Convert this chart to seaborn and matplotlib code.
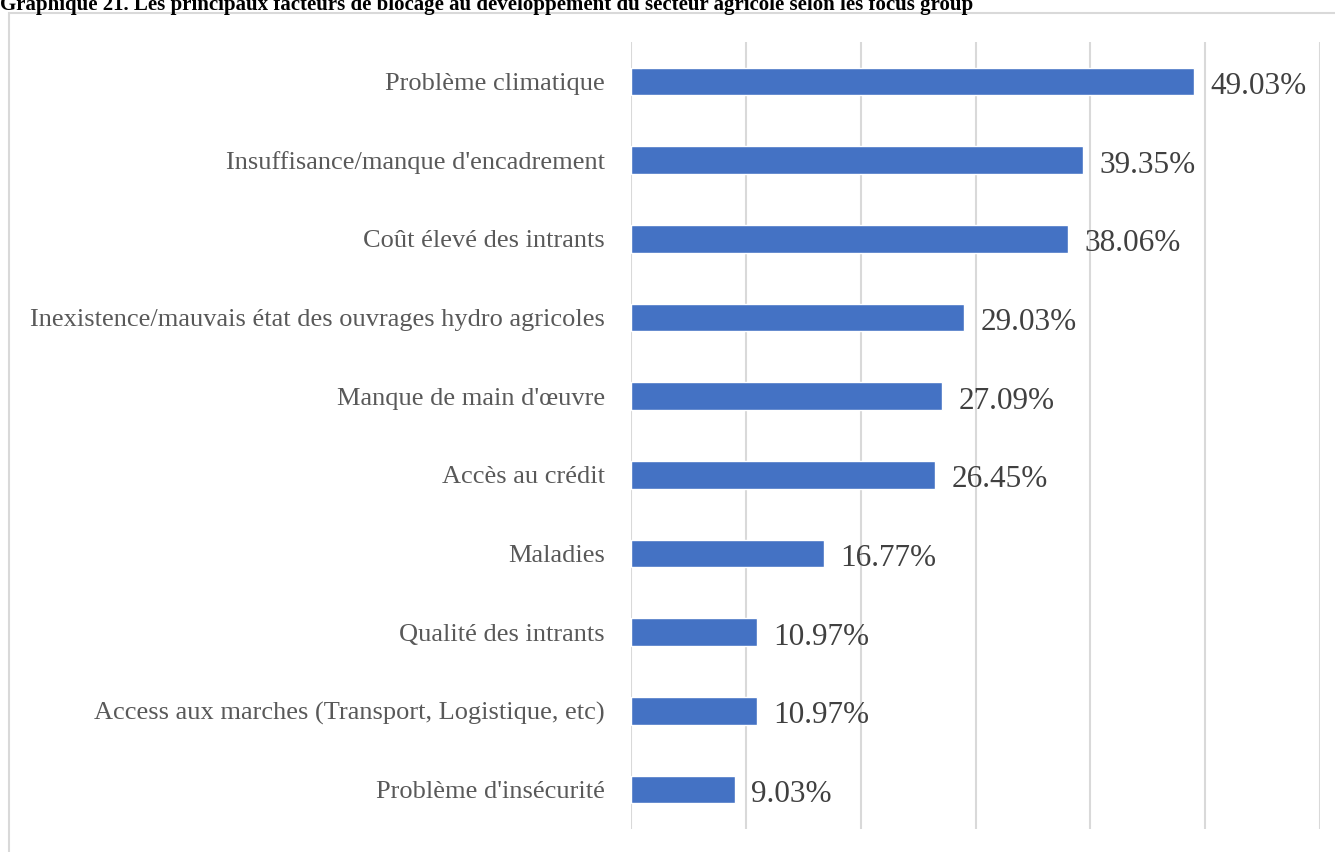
import matplotlib
matplotlib.use('Agg')
import matplotlib.pyplot as plt
import seaborn as sns
import pandas as pd
from matplotlib.patches import Rectangle

# --- Data ---
categories = [
    "Problème climatique",
    "Insuffisance/manque d'encadrement",
    "Coût élevé des intrants",
    "Inexistence/mauvais état des ouvrages hydro agricoles",
    "Manque de main d'œuvre",
    "Accès au crédit",
    "Maladies",
    "Qualité des intrants",
    "Access aux marches (Transport, Logistique, etc)",
    "Problème d'insécurité",
]
values = [49.03, 39.35, 38.06, 29.03, 27.09, 26.45, 16.77, 10.97, 10.97, 9.03]
title = ("Graphique 21. Les principaux facteurs de blocage au développement "
         "du secteur agricole selon les focus group")

df = pd.DataFrame({'facteur': categories, 'pct': values})

sns.set_theme(style='white')
plt.rcParams['font.family'] = ['Liberation Serif', 'DejaVu Serif']

fig = plt.figure(figsize=(13.35, 8.52), dpi=100)
ax = fig.add_axes([0.4727, 0.027, 0.5161, 0.9237])

sns.barplot(data=df, x='pct', y='facteur', orient='h', color='#4472C4',
            width=0.35, saturation=1, ax=ax, zorder=3)

ax.set_xlim(0, 60)
ax.set_ylim(len(categories) - 0.5, -0.5)
ax.set_xticks(range(0, 61, 10))
ax.xaxis.grid(True, color='#d9d9d9', linewidth=1.5, zorder=0)
ax.yaxis.grid(False)
ax.set_axisbelow(True)
ax.set_xticklabels([])
ax.tick_params(axis='x', length=0)
ax.tick_params(axis='y', length=0, pad=19, labelsize=19, labelcolor='#595959')
ax.set_xlabel('')
ax.set_ylabel('')
for s in ax.spines.values():
    s.set_visible(False)

# value labels, baseline near the bottom edge of each bar
texts = ax.bar_label(ax.containers[0], labels=[f"{v:.2f}%" for v in values],
                     padding=12, fontsize=22.5, color='#404040')
for t in texts:
    t.set_va('baseline')
    t.xyann = (12, -9)

# chart border (cropped on right and bottom)
fig.patches.append(Rectangle((9 / 1335, -0.05), 1.2, (852 - 13) / 852 + 0.05,
                             transform=fig.transFigure, fill=False,
                             edgecolor='#d9d9d9', linewidth=1.5))

fig.text(0, 842 / 852, title, ha='left', va='baseline', fontsize=15,
         fontweight='bold', color='black')

fig.savefig('out.png', dpi=100)
